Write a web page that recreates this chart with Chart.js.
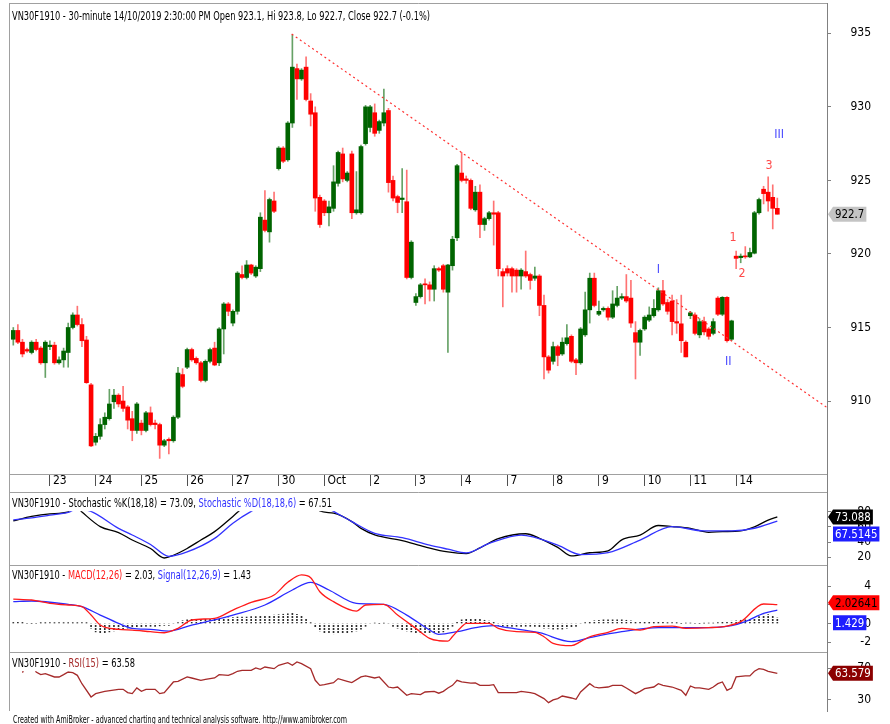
<!DOCTYPE html>
<html>
<head>
<meta charset="utf-8">
<title>VN30F1910 30-minute</title>
<script src="https://cdn.jsdelivr.net/npm/chart.js"></script>
<style>
  html, body { margin: 0; padding: 0; background: #fff; }
  #wrap { position: relative; width: 890px; height: 724px; overflow: hidden; background: #fff; }
  #wrap canvas { position: absolute; left: 0; }
</style>
</head>
<body>
<div id="wrap">
  <canvas id="priceChart" width="890" height="493" style="top:0"></canvas>
  <canvas id="stochChart" width="890" height="73" style="top:492px"></canvas>
  <canvas id="macdChart" width="890" height="87" style="top:565px"></canvas>
  <canvas id="rsiChart" width="890" height="72" style="top:652px"></canvas>
</div>
<script>
// 30-minute bars, 10 per session; bar 0 is the first bar on screen
var openPrices = [914.2,914.8,914.0,913.5,913.3,914.0,913.6,912.6,913.7,913.8,
  912.6,912.8,913.3,915.0,915.85,915.2,914.15,911.1,907.2,907.6,
  908.4,908.8,909.95,910.4,910.0,909.6,908.8,908.0,908.5,908.0,
  909.2,908.5,908.4,907.0,907.4,907.3,908.9,911.8,912.3,913.5,
  912.9,912.6,911.4,912.7,913.6,912.6,914.9,916.6,915.3,916.1,
  918.6,918.4,919.25,918.5,919.0,922.3,921.5,923.6,925.8,927.2,
  926.4,928.9,932.6,931.9,932.7,930.4,929.6,923.85,923.6,922.8,
  923.1,924.8,926.8,925.0,926.8,922.8,922.8,927.5,928.6,929.6,
  928.4,928.9,929.75,925.0,923.9,923.7,923.55,918.4,916.7,917.1,
  917.95,917.9,917.6,919.0,919.2,917.4,919.2,921.1,925.5,925.1,
  925.0,923.0,924.2,922.0,922.4,922.8,922.8,918.8,919.0,919.0,
  918.9,918.5,918.8,918.6,918.35,918.5,916.5,913.0,912.7,913.7,
  913.2,913.9,914.4,912.8,912.6,914.5,916.2,918.35,915.9,916.2,
  916.3,915.7,916.5,917.0,917.1,917.0,914.65,914.0,914.9,915.5,
  915.8,916.2,917.5,916.7,916.8,915.4,915.25,914.0,915.8,915.85,
  914.5,915.4,914.9,914.6,917.0,915.9,917.05,914.2,919.85,919.75,
  919.85,919.8,920.05,922.8,924.4,924.2,923.85,923.1];
var highPrices = [915.0,915.2,914.2,913.6,914.1,914.2,913.7,914.1,914.1,914.0,
  913.0,913.6,915.3,916.0,916.45,915.6,914.4,911.2,907.8,908.8,
  909.2,910.8,910.8,910.5,911.0,909.7,909.3,909.9,908.7,909.3,
  909.6,908.7,908.5,907.4,907.5,909.0,912.3,912.2,913.6,913.6,
  913.0,912.7,912.8,913.6,914.0,915.0,916.7,916.7,916.2,918.8,
  919.2,919.55,919.3,919.2,922.8,924.3,923.8,924.2,927.3,927.3,
  929.0,934.9,932.9,932.6,933.4,930.9,930.0,924.0,923.7,923.6,
  926.0,927.0,927.2,925.6,927.0,925.6,927.4,930.1,930.1,930.2,
  929.1,931.2,929.9,925.3,924.0,925.8,925.7,920.9,917.3,918.0,
  918.3,918.1,919.2,919.1,919.3,919.3,921.2,926.1,926.9,925.3,
  925.1,924.6,924.7,922.5,922.9,923.6,922.9,919.0,919.2,919.1,
  919.0,919.0,920.2,918.7,919.1,918.6,917.2,913.1,914.0,913.8,
  914.3,915.2,914.5,912.9,915.0,917.4,918.7,918.7,916.8,916.4,
  916.4,917.5,917.8,917.3,918.6,918.2,915.4,914.9,915.8,916.4,
  916.9,917.7,918.2,916.9,917.2,916.9,917.2,914.1,916.1,916.0,
  915.6,915.7,915.0,915.6,917.1,917.1,917.1,915.5,920.2,920.0,
  920.5,920.4,922.9,923.8,924.6,925.25,924.7,923.8];
var lowPrices = [913.8,913.9,913.0,913.3,913.2,913.4,912.5,911.6,913.5,912.5,
  912.5,912.3,912.3,914.9,915.1,913.7,911.2,906.9,907.0,907.4,
  908.1,908.7,909.5,909.6,909.3,908.1,907.3,907.8,907.7,907.9,
  908.3,908.1,906.1,906.9,906.4,907.2,908.8,910.9,912.2,912.7,
  912.5,911.3,911.3,912.6,912.4,912.4,913.2,915.8,915.1,915.9,
  918.3,918.3,918.6,918.4,918.8,921.5,920.8,922.8,925.7,926.2,
  926.3,928.6,930.5,931.8,930.4,928.7,922.9,921.8,922.6,921.9,
  922.9,924.6,924.9,924.9,922.4,922.7,922.7,927.4,928.3,928.0,
  928.2,928.7,924.2,923.6,922.8,922.8,918.3,918.3,916.5,917.0,
  916.6,916.8,916.8,918.8,917.4,913.3,918.9,920.9,924.9,924.8,
  923.0,922.9,921.1,921.6,922.3,920.6,918.5,916.4,918.5,917.4,
  917.4,917.6,918.4,917.6,918.2,915.8,911.5,911.9,912.5,912.4,
  913.1,913.8,912.6,911.8,912.5,914.4,915.3,916.4,915.8,916.1,
  915.5,915.6,916.4,916.9,916.7,915.0,911.5,913.1,914.8,915.4,
  915.7,916.1,916.5,915.9,914.5,914.6,913.3,913.0,915.6,914.5,
  914.3,914.5,914.2,914.5,915.8,915.8,914.0,914.1,919.0,919.4,
  919.7,919.75,920.0,922.7,923.4,922.9,921.7,922.7];
var closePrices = [914.8,914.0,913.2,913.4,914.0,913.5,912.6,914.0,913.8,912.6,
  912.8,913.4,915.0,915.85,915.2,914.1,911.25,906.95,907.6,908.4,
  908.9,909.8,910.4,909.8,909.5,908.7,908.0,909.8,908.0,909.2,
  908.4,908.4,907.0,907.3,907.3,908.9,911.9,911.0,913.5,912.8,
  912.6,911.4,912.7,913.5,912.45,914.9,916.6,916.1,916.1,918.7,
  918.4,919.25,918.7,919.1,922.5,921.6,923.7,922.9,927.2,926.3,
  928.9,932.7,931.9,932.5,930.5,929.5,923.8,922.0,922.8,923.2,
  924.9,926.9,925.1,925.5,922.8,923.0,927.3,930.0,930.0,928.2,
  929.0,929.6,924.85,923.8,923.5,923.8,918.4,920.8,917.1,917.9,
  917.9,917.6,919.0,918.9,917.6,919.25,921.0,926.0,925.0,925.0,
  923.1,924.2,922.0,922.4,922.8,922.7,919.0,918.5,918.7,918.5,
  918.5,918.9,918.5,918.2,918.5,916.5,913.0,912.1,913.7,913.1,
  914.0,914.3,912.7,912.6,914.9,916.2,918.35,916.5,916.1,916.3,
  915.7,916.6,917.0,917.1,916.8,915.3,914.0,914.8,915.7,915.85,
  916.3,917.5,916.6,916.1,915.4,915.3,914.1,913.0,916.0,914.6,
  915.4,914.7,914.4,915.4,915.9,917.05,914.1,915.45,919.7,919.85,
  919.8,920.1,922.8,923.7,924.1,923.6,923.1,922.7];

var dayStarts = [8, 18, 28, 38, 48, 58, 68, 78, 88, 98, 108, 118, 128, 138, 148, 158];
var dayLabels = ['23', '24', '25', '26', '27', '30', 'Oct', '2', '3', '4', '7', '8', '9', '10', '11', '14'];
var priceTicks = [910, 915, 920, 925, 930, 935];
var stochTicks = [20, 40, 60, 80];
var macdTicks = [-2, 0, 2, 4];
var rsiTicks = [30, 70];

// hand drawn trend line and wave counts
var trendX = [60.85, 177.8];
var trendY = [934.95, 909.57];
var waveText = ['I', 'II', 'III', '1', '2', '3'];
var waveX = [141.0, 156.3, 167.4, 157.3, 159.3, 165.2];
var waveY = [918.96, 912.67, 928.13, 921.13, 918.68, 926.0];

// indicators
var stochKX = [0,4,8,12,13,14,15,19,23,26,30,33,35,38,41,44,48,50,54,58,62,66,67,70,74,76,79,85,90,95,99,102,106,112,115,119,122,126,130,133,137,141,144,148,152,155,159,162,165,167];
var stochK = [68,73.8,77,79.6,85,85,79.6,60.4,52.5,42.7,31.6,19.1,22.7,31.6,42.7,53.8,73.8,84,95,98,99,88,81,78,67,58,49.5,42,33.8,27,24.9,32.4,44.5,51,45,33,21.8,26,28.5,43,49.3,61.8,60.4,58,52.9,53.8,54.7,60,69,73.09];
var stochDX = [0,4,8,12,14,17,23,26,30,34,38,44,48,52,56,62,67,70,74,79,85,91,95,99,104,111,119,124,130,137,144,151,157,162,167];
var stochD = [69.3,72,75.5,79,84,80.4,58,49.3,36.9,21.3,27.1,44.9,64.9,80.4,92,97,90,80.4,67,51.6,45.8,36,30.7,25.8,38.2,49.3,36,23.6,26.2,42.7,60.4,54.7,54.7,58.2,67.51];

var macdX = [0,4,8,12,15,17,19,23,26,30,33,36,39,44,48,52,57,60,63,65,67,70,75,77,81,84,88,91,93,95,96,98,99,104,106,110,114,116,118,122,124,126,130,133,137,140,144,147,152,156,159,164,167];
var macdLine = [2.63,2.53,2.17,1.99,1.81,0.91,-0.16,-0.63,-0.70,-0.88,-0.99,-0.52,0.38,0.56,1.45,2.28,3.06,4.43,5.22,4.93,3.42,2.35,1.34,1.99,2.06,0.91,-0.52,-1.59,-1.85,-1.9,-1.4,-0.34,0.02,0.02,-0.52,-0.88,-0.95,-1.42,-2.13,-2.38,-1.95,-1.42,-0.95,-0.52,-0.70,-0.34,-0.27,-0.52,-0.45,-0.27,0.2,2.1,2.03];
var signalX = [0,4,12,15,19,23,26,30,34,39,44,48,55,61,65,69,75,81,86,91,93,97,101,105,108,115,122,126,133,141,152,157,160,164,167];
var signalLine = [2.35,2.42,2.06,1.81,0.91,0.02,-0.52,-0.63,-0.81,-0.16,0.38,0.91,1.99,3.60,4.43,3.60,2.17,2.06,0.91,-0.70,-1.16,-0.88,-0.45,-0.23,-0.45,-0.99,-1.95,-1.52,-0.88,-0.45,-0.45,-0.23,0.2,1.09,1.43];
var macdHist = [0.12,0.12,0.12,0,0,0,0.1,0.1,0.1,0.1,
  0.1,0.1,0.1,0.1,0.1,0.1,0.1,-0.5,-0.9,-1.0,
  -1.0,-0.9,-0.8,-0.7,-0.6,-0.5,-0.4,-0.4,-0.35,-0.3,
  -0.3,-0.3,-0.25,-0.2,-0.2,-0.1,0.1,0.3,0.4,0.45,
  0.45,0.5,0.5,0.5,0.5,0.55,0.6,0.6,0.65,0.7,
  0.7,0.7,0.75,0.75,0.8,0.8,0.85,0.9,0.95,1.0,
  1.05,1.1,1.0,0.8,0.5,0.1,-0.4,-0.8,-1.0,-1.1,
  -1.1,-1.1,-1.0,-1.0,-0.9,-0.8,-0.6,-0.3,-0.1,0.05,
  0,0.05,-0.1,-0.3,-0.5,-0.7,-0.8,-0.9,-1.0,-1.1,
  -1.1,-1.1,-1.1,-1.0,-0.9,-0.6,-0.3,0.2,0.4,0.5,
  0.55,0.5,0.45,0.35,0.25,0.15,-0.2,-0.3,-0.3,-0.3,
  -0.3,-0.3,-0.3,-0.3,-0.3,-0.4,-0.5,-0.5,-0.6,-0.6,
  -0.6,-0.5,-0.4,-0.3,-0.1,0.1,0.2,0.3,0.35,0.4,
  0.4,0.4,0.4,0.4,0.35,0.3,0.2,0.2,0.15,0.15,
  0.15,0.15,0.15,0.1,0.1,0.1,0,0.05,0.05,0,
  0,0.05,0.05,0.05,0.1,0.15,0.2,0.25,0.3,0.35,
  0.4,0.5,0.6,0.75,0.9,0.95,0.8,0.6];

var rsiX = [2,3,4,5,6,7,9,10,11,12,13,14,15,17,18,20,23,24,25,26,27,28,29,31,32,33,35,36,38,39,41,42,44,45,47,48,49,50,52,53,54,55,57,58,60,61,62,63,65,66,67,68,70,71,73,74,76,77,79,80,82,83,84,86,87,89,90,92,93,94,95,96,97,98,100,101,102,104,105,106,110,111,113,114,116,117,118,119,120,122,123,124,126,127,128,130,131,133,134,136,137,138,140,141,142,144,146,147,148,149,150,152,153,154,155,156,157,158,160,161,162,163,164,165,167];
var rsiValues = [64.5,78,78,65.3,61.9,63.2,59,59,61.9,65.3,64.5,61.1,50.5,33.7,37.9,40.8,43.4,43.4,39.2,37.9,45.1,40.8,43.4,43.4,37.9,39.2,52.7,53.5,59,57.7,54.8,56,57.7,61.9,61.1,63.2,66.2,67.4,67.4,70.4,68.7,71.6,69.5,73.8,77.1,73.8,78,75.9,69.5,54.8,48.4,49.3,51.8,56.9,53.5,51.8,59,60.3,57.7,59,46.3,45.1,46.3,35.8,37.9,36.6,40,40.8,38.5,40.8,45.1,48.4,54.8,52.7,51.2,51.5,48.4,48.4,49.3,39.2,39.2,40.8,39.2,37.9,31.6,26.5,30,31.6,34.9,32.4,30.7,40,50.5,46.3,45.1,46.3,48.4,48.4,45.1,37.9,40.8,44.2,46.3,50.5,48.4,46.3,42.1,35.8,47.6,45.1,45.1,43.4,46.3,50.5,52.7,42.1,45.1,59,60.3,60.3,66.2,69.5,68.7,66.2,63.58];

var lastK = 73.088, lastD = 67.5145, lastMacd = 2.02641, lastSignal = 1.429, lastRsi = 63.579;

// pick a narrow face if one is installed
function pickFont(list) {
    var c = document.createElement('canvas').getContext('2d');
    var probe = 'mmmmwwwwlli0123456789';
    c.font = '20px monospace'; var b1 = c.measureText(probe).width;
    c.font = '20px serif'; var b2 = c.measureText(probe).width;
    for (var i = 0; i < list.length; i++) {
        c.font = '20px "' + list[i] + '", monospace'; var w1 = c.measureText(probe).width;
        c.font = '20px "' + list[i] + '", serif'; var w2 = c.measureText(probe).width;
        if (w1 !== b1 || w2 !== b2) return list[i];
    }
    return 'Liberation Sans';
}
var face = pickFont(['Liberation Sans Narrow', 'Arial Narrow', 'DejaVu Sans Condensed', 'Liberation Sans']);
var narrow = face !== 'Liberation Sans';
var fontStack = '"' + face + '", "Liberation Sans", Arial, sans-serif';
var squeeze = narrow ? 0.95 : 0.78;

Chart.defaults.font.family = fontStack;
Chart.defaults.font.size = narrow ? 12 : 11;
Chart.defaults.color = '#000';
Chart.defaults.animation = false;

function pts(xs, ys) {
    return xs.map(function (x, k) { return { x: x, y: ys[k] }; });
}

function xScale(show) {
    return {
        type: 'linear', min: -0.72, max: 177.86, offset: false, display: show,
        afterBuildTicks: function (s) { s.ticks = dayStarts.map(function (v) { return { value: v }; }); },
        afterFit: function (s) {
            s.height = show ? 19 : 0;
            s.paddingLeft = 0; s.paddingRight = 0;
        },
        grid: { offset: false, drawOnChartArea: false, drawTicks: true, tickLength: 12, color: '#505050' },
        border: { display: true, color: '#a0a0a0' },
        ticks: {
            align: 'start', labelOffset: 3, padding: -12, autoSkip: false, maxRotation: 0, color: '#000',
            callback: function (v) { return dayLabels[dayStarts.indexOf(v)]; }
        }
    };
}

function yScale(min, max, ticks, pad) {
    return {
        position: 'right', min: min, max: max,
        afterBuildTicks: function (s) { s.ticks = ticks.map(function (v) { return { value: v }; }); },
        afterFit: function (s) { s.width = 44; s.paddingTop = 0; s.paddingBottom = 0; },
        grid: { drawOnChartArea: false, tickLength: 4, color: '#808080' },
        border: { color: '#808080' },
        ticks: { crossAlign: 'far', padding: pad, color: '#000' }
    };
}

function drawText(ctx, parts, x, y, width, size, bgTop) {
    ctx.save();
    ctx.font = size + 'px ' + fontStack;
    var total = 0;
    parts.forEach(function (p) { total += ctx.measureText(p[0]).width; });
    if (bgTop !== undefined) {
        // opaque label strip, AmiBroker hides the curves under the title
        ctx.fillStyle = '#fff';
        ctx.fillRect(x - 1, bgTop, width + 3, y + size * 0.55 - bgTop);
    }
    ctx.translate(x, y);
    ctx.scale(width / total, 1);
    ctx.textBaseline = 'middle';
    ctx.textAlign = 'left';
    var cx = 0;
    parts.forEach(function (p) {
        ctx.fillStyle = p[1];
        ctx.fillText(p[0], cx, 0);
        cx += ctx.measureText(p[0]).width;
    });
    ctx.restore();
}

function valueBox(ctx, text, cy, fill, color, arrow) {
    ctx.save();
    ctx.font = '12px ' + fontStack;
    var tw = ctx.measureText(text).width * squeeze;
    var x0 = 833, x1 = x0 + tw + 4, h = 15;
    ctx.beginPath();
    ctx.moveTo(arrow ? 828 : x0, cy);
    ctx.lineTo(x0, cy - h / 2);
    ctx.lineTo(x1, cy - h / 2);
    ctx.lineTo(x1, cy + h / 2);
    ctx.lineTo(x0, cy + h / 2);
    ctx.closePath();
    ctx.fillStyle = fill;
    ctx.fill();
    ctx.translate(x0 + 2, cy + 1);
    ctx.scale(squeeze, 1);
    ctx.fillStyle = color;
    ctx.textBaseline = 'middle';
    ctx.fillText(text, 0, 0);
    ctx.restore();
    return cy;
}

function panelFrame(extraBottom) {
    return {
        id: 'panelFrame',
        afterDraw: function (chart) {
            var a = chart.chartArea, ctx = chart.ctx;
            ctx.save();
            ctx.strokeStyle = '#a0a0a0';
            ctx.lineWidth = 1;
            ctx.beginPath();
            ctx.moveTo(9.5, a.top);
            ctx.lineTo(9.5, a.bottom + (extraBottom || 0));
            ctx.moveTo(9.5, a.top + 0.5);
            ctx.lineTo(a.right, a.top + 0.5);
            ctx.stroke();
            if (extraBottom) {
                ctx.strokeStyle = '#808080';
                ctx.beginPath();
                ctx.moveTo(a.right + 0.5, a.bottom);
                ctx.lineTo(a.right + 0.5, a.bottom + extraBottom);
                ctx.stroke();
            }
            ctx.restore();
        }
    };
}

function panelTitle(parts, y, width) {
    return {
        id: 'panelTitle',
        afterDatasetsDraw: function (chart) {
            drawText(chart.ctx, parts, 12, y, width, 13, chart.chartArea.top + 1);
        }
    };
}

// dashed look of the MACD histogram
function dashPattern() {
    var c = document.createElement('canvas');
    c.width = 1; c.height = 3;
    var g = c.getContext('2d');
    g.fillStyle = '#303030';
    g.fillRect(0, 0, 1, 2);
    return g.createPattern(c, 'repeat');
}

// ---- price panel ----
var bodies = openPrices.map(function (o, i) { return { x: i, y: [o, closePrices[i]] }; });
var wicks = lowPrices.map(function (l, i) { return { x: i, y: [l, highPrices[i]] }; });
var bodyColors = openPrices.map(function (o, i) { return closePrices[i] >= o ? '#006400' : '#ff0000'; });
var wickColors = openPrices.map(function (o, i) { return closePrices[i] >= o ? 'rgba(0,100,0,0.6)' : 'rgba(255,0,0,0.55)'; });

var wavePlugin = {
    id: 'waves',
    afterDatasetsDraw: function (chart) {
        var ctx = chart.ctx, xs = chart.scales.x, ys = chart.scales.y;
        ctx.save();
        ctx.font = '13px ' + fontStack;
        ctx.textAlign = 'center';
        ctx.textBaseline = 'middle';
        waveText.forEach(function (t, k) {
            ctx.fillStyle = /^[0-9]/.test(t) ? '#ff4a4a' : '#4646ff';
            ctx.save();
            ctx.translate(xs.getPixelForValue(waveX[k]), ys.getPixelForValue(waveY[k]));
            ctx.scale(squeeze, 1);
            ctx.fillText(t, 0, 0);
            ctx.restore();
        });
        ctx.restore();
    }
};

var priceBox = {
    id: 'priceBox',
    afterDraw: function (chart) {
        valueBox(chart.ctx, closePrices[closePrices.length - 1].toFixed(1),
            chart.scales.y.getPixelForValue(closePrices[closePrices.length - 1]), '#c4c4c4', '#000', true);
    }
};

new Chart(document.getElementById('priceChart'), {
    type: 'bar',
    data: {
        datasets: [
            { type: 'line', data: pts(trendX, trendY), borderColor: '#ff3030', borderWidth: 1.2, borderDash: [2, 3], pointRadius: 0, order: 0 },
            { data: bodies, backgroundColor: bodyColors, barThickness: 4, minBarLength: 1, grouped: false, order: 1 },
            { data: wicks, backgroundColor: wickColors, barThickness: 1, grouped: false, order: 2 }
        ]
    },
    options: {
        responsive: false,
        animation: false,
        layout: { padding: { left: 10, top: 3, right: 19, bottom: 0 }, autoPadding: false },
        plugins: { legend: { display: false }, tooltip: { enabled: false } },
        scales: { x: xScale(true), y: yScale(905.04, 937.06, priceTicks, 22) }
    },
    plugins: [
        panelFrame(19),
        panelTitle([['VN30F1910 - 30-minute 14/10/2019 2:30:00 PM Open 923.1, Hi 923.8, Lo 922.7, Close 922.7 (-0.1%)', '#000']], 17, 418),
        wavePlugin,
        priceBox
    ]
});

// ---- stochastic panel ----
new Chart(document.getElementById('stochChart'), {
    type: 'line',
    data: {
        datasets: [
            { data: pts(stochDX, stochD), borderColor: '#3232ff', borderWidth: 1.3, pointRadius: 0, cubicInterpolationMode: 'monotone' },
            { data: pts(stochKX, stochK), borderColor: '#000000', borderWidth: 1.3, pointRadius: 0, cubicInterpolationMode: 'monotone' }
        ]
    },
    options: {
        responsive: false,
        animation: false,
        layout: { padding: { left: 10, top: 0, right: 19, bottom: 0 }, autoPadding: false },
        plugins: { legend: { display: false }, tooltip: { enabled: false } },
        scales: { x: xScale(false), y: yScale(9.87, 105.9, stochTicks, 28) }
    },
    plugins: [
        panelFrame(0),
        panelTitle([['VN30F1910 - Stochastic %K(18,18) = 73.09, ', '#000'], ['Stochastic %D(18,18,6)', '#3232ff'], [' = 67.51', '#000']], 12, 320),
        {
            id: 'stochBoxes',
            afterDraw: function (chart) {
                var ys = chart.scales.y;
                var k = valueBox(chart.ctx, String(lastK), ys.getPixelForValue(lastK), '#000', '#fff', true);
                var d = ys.getPixelForValue(lastD);
                if (Math.abs(d - k) < 17) d = k + 17;
                valueBox(chart.ctx, String(lastD), d, '#1e1eff', '#fff', false);
            }
        }
    ]
});

// ---- MACD panel ----
new Chart(document.getElementById('macdChart'), {
    type: 'bar',
    data: {
        datasets: [
            { type: 'line', data: pts(signalX, signalLine), borderColor: '#2a2aff', borderWidth: 1.3, pointRadius: 0, cubicInterpolationMode: 'monotone', order: 1 },
            { type: 'line', data: pts(macdX, macdLine), borderColor: '#ff1a1a', borderWidth: 1.3, pointRadius: 0, cubicInterpolationMode: 'monotone', order: 0 },
            { data: macdHist.map(function (v, i) { return { x: i, y: v }; }), backgroundColor: dashPattern(), barThickness: 1, grouped: false, order: 2 }
        ]
    },
    options: {
        responsive: false,
        animation: false,
        layout: { padding: { left: 10, top: 0, right: 19, bottom: 0 }, autoPadding: false },
        plugins: { legend: { display: false }, tooltip: { enabled: false } },
        scales: { x: xScale(false), y: yScale(-3.06, 6.29, macdTicks, 29) }
    },
    plugins: [
        panelFrame(0),
        panelTitle([['VN30F1910 - ', '#000'], ['MACD(12,26)', '#ff1a1a'], [' = 2.03, ', '#000'], ['Signal(12,26,9)', '#2a2aff'], [' = 1.43', '#000']], 11, 239),
        {
            id: 'macdBoxes',
            afterDraw: function (chart) {
                var ys = chart.scales.y;
                var m = valueBox(chart.ctx, String(lastMacd), ys.getPixelForValue(lastMacd) - 2, '#ff0000', '#000', true);
                var s = ys.getPixelForValue(lastSignal);
                if (Math.abs(s - m) < 19) s = m + 20;
                valueBox(chart.ctx, String(lastSignal), s, '#1e1eff', '#fff', false);
            }
        }
    ]
});

// ---- RSI panel ----
new Chart(document.getElementById('rsiChart'), {
    type: 'line',
    data: {
        datasets: [
            { data: pts(rsiX, rsiValues), borderColor: '#a52a2a', borderWidth: 1.3, pointRadius: 0 }
        ]
    },
    options: {
        responsive: false,
        animation: false,
        layout: { padding: { left: 10, top: 0, right: 19, bottom: 13 }, autoPadding: false },
        plugins: { legend: { display: false }, tooltip: { enabled: false } },
        scales: { x: xScale(false), y: yScale(15.95, 90.6, rsiTicks, 28) }
    },
    plugins: [
        panelFrame(0),
        panelTitle([['VN30F1910 - ', '#000'], ['RSI(15)', '#a52a2a'], [' = 63.58', '#000']], 12, 123),
        {
            id: 'rsiBox',
            afterDraw: function (chart) {
                valueBox(chart.ctx, String(lastRsi), chart.scales.y.getPixelForValue(lastRsi), '#8b0000', '#fff', true);
                drawText(chart.ctx, [['Created with AmiBroker - advanced charting and technical analysis software. http://www.amibroker.com', '#000']], 13, 68, 334, 10);
            }
        }
    ]
});
</script>
</body>
</html>
